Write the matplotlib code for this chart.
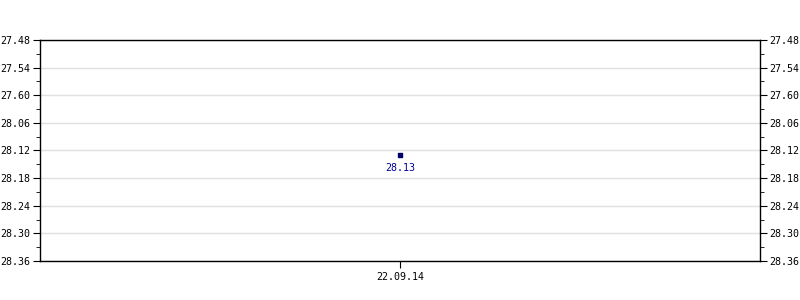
import numpy as np
import matplotlib
matplotlib.use('Agg')
import matplotlib.pyplot as plt
from matplotlib.ticker import FixedLocator, MultipleLocator

# 값 (60진 단위: 27.48 -> 27*60+48)
dates = ['22.09.14']
values = [1693]
value_labels = ['28.13']
ytick_values = [1668, 1674, 1680, 1686, 1692, 1698, 1704, 1710, 1716]
ytick_labels = ['27.48', '27.54', '27.60', '28.06', '28.12', '28.18', '28.24', '28.30', '28.36']

plt.rcParams['font.family'] = ['DejaVu Sans Mono']

fig = plt.figure(figsize=(8, 3), dpi=100)
ax = fig.add_axes([40/800, 1-261/300, 720/800, 221/300])

x = np.arange(len(dates))
ax.scatter(x, values, marker='s', s=10, color='#000066', zorder=3)
for xi, v, lab in zip(x, values, value_labels):
    ax.annotate(lab, (xi, v), xytext=(0, -5.5), textcoords='offset points',
                ha='center', va='top', fontsize=7.2, color='#000099')

ax.set_xlim(-1, 1)
ax.set_xticks(x)
ax.set_xticklabels(dates, fontsize=7.2)

ax.set_ylim(ytick_values[-1], ytick_values[0])
ax.yaxis.set_major_locator(FixedLocator(ytick_values))
ax.set_yticklabels(ytick_labels, fontsize=7.2)
ax.yaxis.set_minor_locator(MultipleLocator(3))
ax.tick_params(axis='y', which='both', left=True, right=True,
               labelleft=True, labelright=True, direction='out', pad=2)
ax.tick_params(axis='y', which='major', length=5)
ax.tick_params(axis='y', which='minor', length=3)
ax.tick_params(axis='x', length=5, pad=3)
ax.grid(axis='y', color='#e0e0e0', linewidth=1)
ax.set_axisbelow(True)
for s in ax.spines.values():
    s.set_color('black')
    s.set_linewidth(1)

fig.savefig('out.png', dpi=100)
